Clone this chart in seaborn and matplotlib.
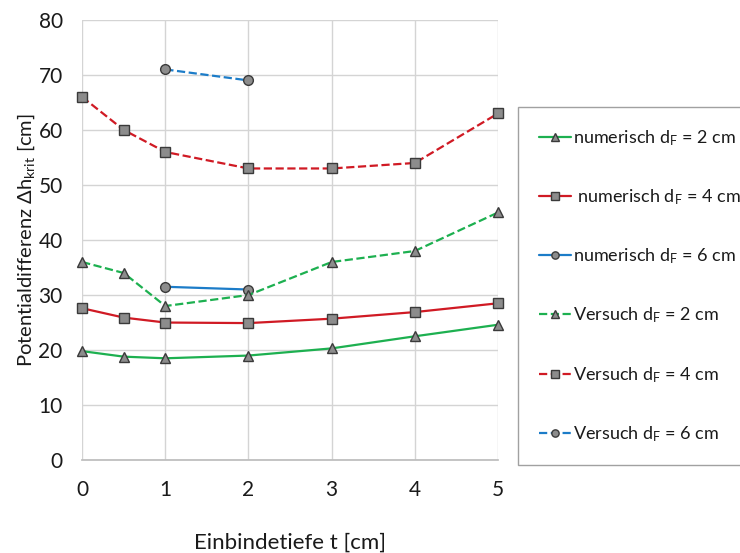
import matplotlib
matplotlib.use("Agg")
import matplotlib.pyplot as plt
import seaborn as sns
import pandas as pd

# Einbindetiefe t [cm]
t_full = [0, 0.5, 1, 2, 3, 4, 5]
t_short = [1, 2]

# critical potential difference [cm]
num_d2 = [19.8, 18.8, 18.5, 19.0, 20.3, 22.5, 24.6]
num_d4 = [27.6, 25.9, 25.0, 24.9, 25.7, 26.9, 28.5]
num_d6 = [31.5, 31.0]
ver_d2 = [36, 34, 28, 30, 36, 38, 45]
ver_d4 = [66, 60, 56, 53, 53, 54, 63]
ver_d6 = [71, 69]

labels = [
    r"numerisch d$_\mathregular{F}$ = 2 cm",
    r" numerisch d$_\mathregular{F}$ = 4 cm",
    r"numerisch d$_\mathregular{F}$ = 6 cm",
    r"Versuch d$_\mathregular{F}$ = 2 cm",
    r"Versuch d$_\mathregular{F}$ = 4 cm",
    r"Versuch d$_\mathregular{F}$ = 6 cm",
]

sns.set_theme(style="white")
plt.rcParams["font.family"] = ["Lato", "DejaVu Sans"]
plt.rcParams["mathtext.fontset"] = "custom"
plt.rcParams["mathtext.rm"] = "Lato"
plt.rcParams["mathtext.it"] = "Lato:italic"
plt.rcParams["mathtext.fallback"] = "stixsans"

fig = plt.figure(figsize=(7.4, 5.53), dpi=100)
ax = fig.add_axes([0.111, 0.168, 0.562, 0.796])

green = "#1DB050"
red = "#D01A24"
blue = "#1C7CC8"

series = [
    (t_full, num_d2, green, "-", "^"),
    (t_full, num_d4, red, "-", "s"),
    (t_short, num_d6, blue, "-", "o"),
    (t_full, ver_d2, green, "--", "^"),
    (t_full, ver_d4, red, "--", "s"),
    (t_short, ver_d6, blue, "--", "o"),
]
msize = {"^": 7.5, "s": 7.5, "o": 7.0}

for (x, y, col, ls, mk), lab in zip(series, labels):
    df = pd.DataFrame({"t": x, "dh": y})
    sns.lineplot(data=df, x="t", y="dh", ax=ax, color=col, linestyle=ls,
                 linewidth=1.6, marker=mk, markersize=msize[mk],
                 markerfacecolor="#8C8C8C", markeredgecolor="#3A3A3A",
                 markeredgewidth=1.0, label=lab, sort=False, clip_on=False,
                 dashes=False if ls == "-" else (3, 2))

ax.set_xlim(0, 5)
ax.set_ylim(0, 80)
ax.set_xticks([0, 1, 2, 3, 4, 5])
ax.set_yticks(range(0, 81, 10))
ax.grid(True, color="#D4D4D4", linewidth=1.0)
for s in ["top", "right", "left"]:
    ax.spines[s].set_visible(False)
ax.spines["bottom"].set_color("#BDBDBD")
ax.tick_params(axis="both", which="both", direction="out", length=6,
               color="#BDBDBD", labelsize=15, labelcolor="#1a1a1a")
ax.tick_params(axis="y", pad=8)
ax.tick_params(axis="x", pad=8)

ax.set_xlabel("Einbindetiefe t [cm]", fontsize=16, color="#1a1a1a", labelpad=24)
ax.set_ylabel(r"Potentialdifferenz $\Delta$h$_\mathregular{krit}$ [cm]",
              fontsize=14.5, color="#1a1a1a", labelpad=1)

if ax.legend_:
    ax.legend_.remove()
handles, labs = ax.get_legend_handles_labels()
leg = fig.legend(handles, labs, loc="upper left", bbox_to_anchor=(0.7, 0.807),
                 frameon=True, fancybox=False, edgecolor="#8A8A8A",
                 fontsize=13, labelspacing=2.19, handlelength=1.75,
                 handletextpad=0.1, borderpad=1.18, borderaxespad=0,
                 markerscale=0.75)
leg.get_frame().set_linewidth(1.0)
for txt in leg.get_texts():
    txt.set_color("#1a1a1a")

fig.savefig("out.png", dpi=100)
